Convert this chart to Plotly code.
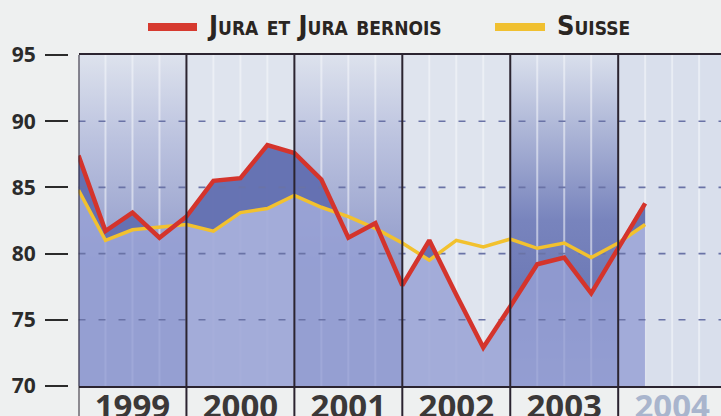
import plotly.graph_objects as go

# ---------------- data ----------------
years = ["1999", "2000", "2001", "2002", "2003", "2004"]
quarters = list(range(22))  # quarter index, 0 = start of 1999
jura = [87.4, 81.7, 83.1, 81.2, 82.8, 85.5, 85.7, 88.2, 87.6, 85.6, 81.2,
        82.3, 77.6, 81.0, 76.9, 72.9, 76.0, 79.2, 79.7, 77.0, 80.4, 83.8]
suisse = [84.8, 81.0, 81.8, 82.0, 82.2, 81.7, 83.1, 83.4, 84.4, 83.5, 82.8,
          81.9, 80.8, 79.5, 81.0, 80.5, 81.1, 80.4, 80.8, 79.7, 80.8, 82.2]
y_ticks = [70, 75, 80, 85, 90, 95]
grid_vals = [75, 80, 85, 90]
series_names = ["Jura et Jura bernois", "Suisse"]

# ---------------- layout constants ----------------
W, H = 721, 416
L, T, B = 68, 55, 30
PLOT_LEFT = 78.5
YMIN, YMAX = 70, 95
XMAX = 23.81
year_len = 4
PAGE_BG = "#eef0f0"

RED = "#d4342c"
YELLOW = "#f2c12e"
DARK = "#2b2430"
BG_LIGHT = "#dfe4ee"


def px_x(px):
    return (px - L) / (W - L)


def px_y(py):
    return (H - B - py) / (H - B - T)


fig = go.Figure()

# background year bands (gradient for 1999, 2001, 2003)
for k, yr in enumerate(years):
    x0 = k * year_len
    x1 = min((k + 1) * year_len, XMAX)
    if k % 2 == 0 and k < 5:
        if k == 4:
            cs = [[0, "#8a95c6"], [0.3, "#6e7ab6"], [0.5, "#7884bd"], [1, "#d9dfec"]]
        else:
            cs = [[0, "#8f99c9"], [0.35, "#8f99c9"], [0.75, "#bcc3df"], [1, "#dde2ed"]]
        fig.add_trace(go.Scatter(
            x=[x0, x1, x1, x0, x0], y=[YMIN, YMIN, YMAX, YMAX, YMIN],
            mode="lines", line=dict(width=0), fill="toself",
            fillgradient=dict(type="vertical", colorscale=cs, start=YMIN, stop=YMAX),
            hoverinfo="skip", showlegend=False))
    elif k == 5:
        fig.add_trace(go.Scatter(
            x=[x0, x1, x1, x0, x0], y=[YMIN, YMIN, YMAX, YMAX, YMIN],
            mode="lines", line=dict(width=0), fill="toself", fillcolor="#d9dfec",
            hoverinfo="skip", showlegend=False))

# quarter stripes
for q in range(1, 24):
    if q % year_len:
        fig.add_trace(go.Scatter(
            x=[q, q], y=[YMIN, YMAX], mode="lines",
            line=dict(color="rgba(245,248,252,0.55)", width=2),
            hoverinfo="skip", showlegend=False))

# area under Jura line
fig.add_trace(go.Scatter(
    x=quarters, y=jura, mode="lines", line=dict(width=0),
    fill="tozeroy", fillcolor="rgba(150,160,212,0.82)",
    hoverinfo="skip", showlegend=False))

# area between Suisse and Jura where Jura is higher
xs, up, lo = [], [], []
for i in range(len(quarters)):
    if i > 0:
        d0 = jura[i - 1] - suisse[i - 1]
        d1 = jura[i] - suisse[i]
        if d0 * d1 < 0:
            t = d0 / (d0 - d1)
            xi = quarters[i - 1] + t * (quarters[i] - quarters[i - 1])
            yi = suisse[i - 1] + t * (suisse[i] - suisse[i - 1])
            xs.append(xi); up.append(yi); lo.append(yi)
    xs.append(quarters[i]); up.append(max(jura[i], suisse[i])); lo.append(suisse[i])

fig.add_trace(go.Scatter(x=xs, y=lo, mode="lines", line=dict(width=0),
                         hoverinfo="skip", showlegend=False))
fig.add_trace(go.Scatter(x=xs, y=up, mode="lines", line=dict(width=0),
                         fill="tonexty", fillcolor="rgba(92,104,172,0.85)",
                         hoverinfo="skip", showlegend=False))

# dashed grid lines
for g in grid_vals:
    fig.add_trace(go.Scatter(
        x=[0, XMAX], y=[g, g], mode="lines",
        line=dict(color="#6a73a6", width=1.6, dash="7px,13px"),
        hoverinfo="skip", showlegend=False))

# series lines
fig.add_trace(go.Scatter(x=quarters, y=suisse, mode="lines", name=series_names[1],
                         line=dict(color=YELLOW, width=3.5), showlegend=False))
fig.add_trace(go.Scatter(x=quarters, y=jura, mode="lines", name=series_names[0],
                         line=dict(color=RED, width=4.5), showlegend=False))

# year boundary lines
shapes = []
for k in range(len(years)):
    xv = k * year_len
    shapes.append(dict(type="line", xref="x", yref="paper", x0=xv, x1=xv,
                       y0=px_y(H + 2), y1=1, line=dict(color=DARK, width=2),
                       layer="above"))

# legend (manual)
shapes.append(dict(type="line", xref="paper", yref="paper",
                   x0=px_x(148), x1=px_x(197), y0=px_y(27), y1=px_y(27),
                   line=dict(color="#d63a2f", width=8)))
shapes.append(dict(type="line", xref="paper", yref="paper",
                   x0=px_x(495), x1=px_x(545), y0=px_y(27), y1=px_y(27),
                   line=dict(color="#f0c030", width=8)))
legend_font = dict(family="Liberation Sans Narrow, DejaVu Sans Condensed, Roboto, sans-serif",
                   size=27, color="#2a2522", weight="bold", variant="small-caps")
annotations = [
    dict(text=series_names[0], xref="paper", yref="paper", x=px_x(205), y=px_y(26),
         xanchor="left", yanchor="middle", showarrow=False, font=legend_font),
    dict(text=series_names[1], xref="paper", yref="paper", x=px_x(555), y=px_y(26),
         xanchor="left", yanchor="middle", showarrow=False, font=legend_font),
]

tick_text = [y if y != "2004" else '<span style="color:#a9b5cd">2004</span>'
             for y in years]

fig.update_layout(
    width=W, height=H,
    margin=dict(l=L, r=0, t=T, b=B, pad=0),
    paper_bgcolor=PAGE_BG,
    plot_bgcolor=BG_LIGHT,
    shapes=shapes,
    annotations=annotations,
    xaxis=dict(domain=[(PLOT_LEFT - L) / (W - L), 1], range=[0, XMAX],
               tickvals=[k * year_len + 2 for k in range(len(years))],
               ticktext=tick_text, ticks="", showgrid=False, zeroline=False,
               showline=True, mirror=True, linecolor=DARK, linewidth=2,
               tickfont=dict(family="Open Sans", size=33, color="#3b3838",
                             weight="bold"),
               ticklabelstandoff=-10, automargin=False,
               fixedrange=True),
    yaxis=dict(anchor="free", position=0, range=[YMIN, YMAX], tickvals=y_ticks,
               ticks="outside", ticklen=23, tickwidth=2, tickcolor="#2b2b2b",
               showgrid=False, zeroline=False, showline=False,
               tickfont=dict(family="Open Sans", size=21, color="#2b2b2b",
                             weight="bold"),
               ticklabelstandoff=5, automargin=False,
               fixedrange=True),
    showlegend=False,
)

fig.write_html(
    "out.html",
    config={"displayModeBar": False},
    post_script=("document.body.style.margin='0';"
                 "document.body.style.padding='0';"
                 "document.body.style.overflow='hidden';"
                 f"document.body.style.background='{PAGE_BG}';"),
)
